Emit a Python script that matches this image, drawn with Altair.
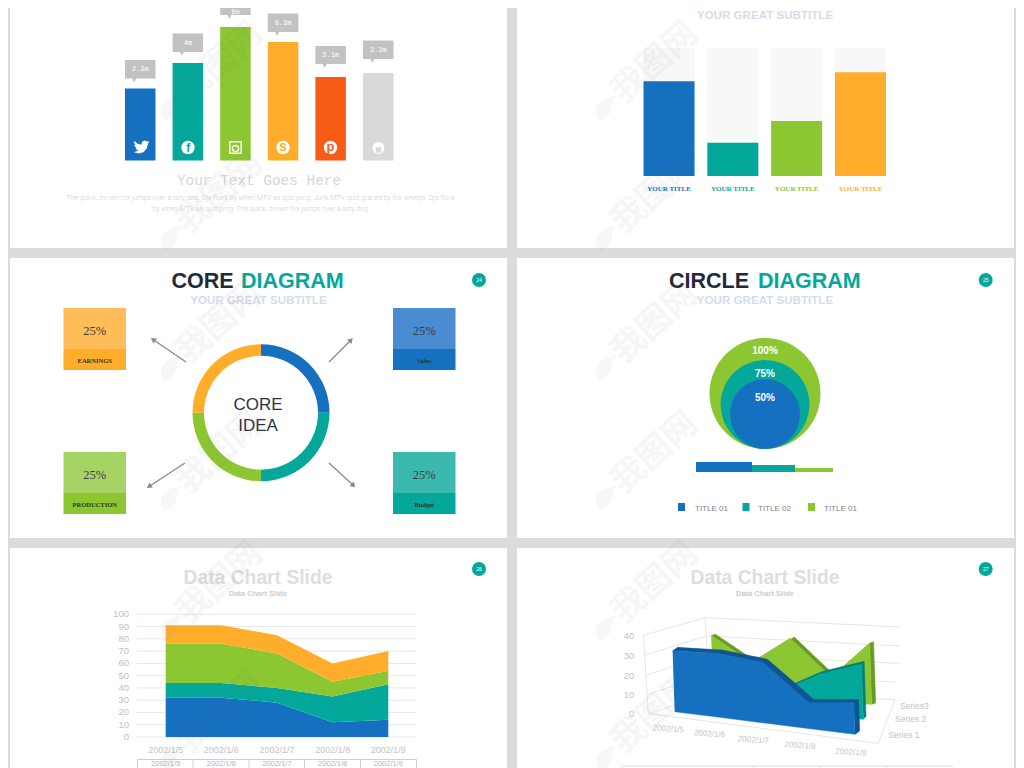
import altair as alt
import pandas as pd

BLUE, TEAL, GREEN, ORANGE, RED = "#1570c0", "#03a89b", "#8cc630", "#ffad2b", "#f75c17"
GREY_BG = "#dcdcdc"
SANS, SERIF, MONO = "Liberation Sans", "Liberation Serif", "Liberation Mono"
CJK = "Noto Sans CJK SC"

# ---- data -----------------------------------------------------------------
social_names = ["twitter", "facebook", "instagram", "skype", "pinterest", "other"]
social_bars = [72, 97.5, 133.5, 118.5, 83.5, 87.5]
social_labels = ["2.3m", "4m", "8m", "8.3m", "3.1m", "3.3m"]
social_tag_low = [82, 108.5, 145.5, 128.5, 96.5, 101.5]
social_tag_high = [100.5, 127, 160.5, 147, 114.5, 120]
social_label_at = [91.25, 117.75, 148.5, 137.75, 105.5, 110.75]
social_colors = [BLUE, TEAL, GREEN, ORANGE, RED, "#d9d9d9"]

title_names = ["A", "B", "C", "D"]
title_values = [74, 26, 43, 81]
title_colors = [BLUE, TEAL, GREEN, ORANGE]

core_values = [25, 25, 25, 25]
core_colors = [BLUE, TEAL, GREEN, ORANGE]

circle_values = [100, 75, 50]
circle_colors = [GREEN, TEAL, BLUE]
strip_start = [0, 56, 99]
strip_end = [56, 99, 137]
strip_height = [10, 7, 4]

dates = ["2002/1/5", "2002/1/6", "2002/1/7", "2002/1/8", "2002/1/9"]
area_series = {
    "Series 1": [32, 32, 28, 12, 14],
    "Series 2": [12, 12, 12, 21, 29],
    "Series 3": [32, 32, 28, 12, 11],
    "Series 4": [15, 15, 15, 15, 16],
}
area_colors = [BLUE, TEAL, GREEN, ORANGE]
area_ticks = list(range(0, 101, 10))

ribbon_blue = [31, 32.5, 30.7, 13.2, 16]
ribbon_teal = [12, 12, 10, 21, 28]
ribbon_green = [32, 19, 32, 13, 31]
axis3d_ticks = [0, 10, 20, 30, 40]


# ---- helpers --------------------------------------------------------------
ONE = pd.DataFrame({"o": [1]})


def box(x1, x2, y1, y2, color, opacity=1):
    return alt.Chart(ONE).mark_rect(color=color, opacity=opacity).encode(
        x=alt.value(x1 - 8), x2=alt.value(x2 - 8), y=alt.value(y1 - 8), y2=alt.value(y2 - 8))


def seg(x1, y1, x2, y2, color, width=1):
    return alt.Chart(ONE).mark_rule(color=color, strokeWidth=width).encode(
        x=alt.value(x1 - 8), x2=alt.value(x2 - 8), y=alt.value(y1 - 8), y2=alt.value(y2 - 8))


def label(t, x, y, size, color, font=SANS, bold=False, align="center", angle=0, opacity=1, weight=None):
    return alt.Chart(pd.DataFrame({"t": [t]})).mark_text(
        font=font, fontSize=size, color=color,
        fontWeight=weight if weight else ("bold" if bold else "normal"),
        align=align, baseline="middle", angle=angle, opacity=opacity).encode(
        x=alt.value(x - 8), y=alt.value(y - 8), text="t:N")


def sym(x, y, shape, size, color, angle=0, filled=True, width=1, opacity=1):
    return alt.Chart(ONE).mark_point(
        shape=shape, size=size, filled=filled, color=color, angle=angle,
        stroke=color if not filled else None, strokeWidth=width, opacity=opacity).encode(
        x=alt.value(x - 8), y=alt.value(y - 8))


layers = [box(10, 507, 0, 248, "white"), box(517, 1014, 0, 248, "white"),
          box(10, 507, 258, 538, "white"), box(517, 1014, 258, 538, "white"),
          box(10, 507, 548, 776, "white"), box(517, 1014, 548, 776, "white")]

# ---- social bars ----------------------------------------------------------
soc = pd.DataFrame({"n": social_names, "v": social_bars, "l": social_labels,
                    "lo": social_tag_low, "hi": social_tag_high, "c": social_colors,
                    "m": social_label_at})
sx = alt.Scale(type="band", domain=social_names, range=[117, 385.5], paddingInner=0.36, paddingOuter=0)
sy = alt.Scale(domain=[0, 160], range=[152.5, -7.5])
X = alt.X("n:N", scale=sx, axis=None, sort=social_names)
layers += [
    alt.Chart(soc).mark_bar(size=30.5).encode(
        x=X, y=alt.Y("v:Q", scale=sy, axis=None), color=alt.Color("c:N", scale=None)),
    alt.Chart(soc).mark_bar(color="#c2c2c2", size=30.5).encode(
        x=X, y=alt.Y("lo:Q", scale=sy, axis=None), y2="hi:Q"),
    alt.Chart(soc).mark_point(shape="triangle-down", size=38, filled=True, color="#c2c2c2",
                              opacity=1, xOffset=-6, yOffset=1).encode(
        x=X, y=alt.Y("lo:Q", scale=sy, axis=None)),
    alt.Chart(soc).mark_text(font=MONO, fontSize=7, color="white", baseline="middle").encode(
        x=X, y=alt.Y("m:Q", scale=sy, axis=None), text="l:N"),
]

bird = [(24, 4.6), (21.2, 5.3), (23.3, 2.6), (20.2, 3.8), (16.6, 2.2), (13.2, 4), (12, 7), (12.1, 8.7),
        (6.5, 7), (1.6, 3.2), (1, 5.6), (3.2, 9.7), (0.9, 9.1), (1, 9.8), (4.9, 14), (2.7, 14.1),
        (7.3, 17.5), (1.2, 19.6), (0, 19.5), (7.5, 21.8), (15, 19.8), (20, 14), (21.5, 7.8), (21.5, 7.2)]
bird_path = "M" + " L".join(f"{(px - 12) / 12:.3f},{(py - 12) / 12:.3f}" for px, py in bird) + " Z"
layers += [
    sym(141.5, 147, bird_path, 260, "white"),
    sym(188, 147.5, "circle", 180, "white"),
    label("f", 188.3, 148, 12, TEAL, bold=True),
    sym(235.5, 147.5, "square", 130, "white", filled=False, width=1.5),
    sym(235.5, 148.5, "circle", 38, "white", filled=False, width=1.5),
    sym(283, 147.5, "circle", 180, "white"),
    label("S", 283, 148, 11, ORANGE, bold=True),
    sym(330.5, 147.5, "circle", 180, "white"),
    label("p", 330.5, 147, 13, RED, bold=True),
    sym(378.5, 148, "circle", 140, "white"),
    sym(378.5, 150, "square", 30, "#d9d9d9"),
    label("Your Text Goes Here", 259, 180.5, 14.4, "#d6d6d6", font=MONO),
    label("The quick, brown fox jumps over a lazy dog. Djs flock by when MTV ax quiz prog. Junk MTV quiz graced by fox whelps. Djs flock",
          261, 198, 7, "#cfcfcf", font="Roboto", weight=300),
    label("by when MTV ax quiz prog. The quick, brown fox jumps over a lazy dog.", 261, 208.5, 7, "#cfcfcf",
          font="Roboto", weight=300),
]

# ---- title bars -----------------------------------------------------------
tt = pd.DataFrame({"n": title_names, "v": title_values, "c": title_colors, "full": [100] * 4})
tx = alt.Scale(type="band", domain=title_names, range=[635.5, 878], paddingInner=0.2, paddingOuter=0)
ty = alt.Scale(domain=[0, 100], range=[168, 40])
TX = alt.X("n:N", scale=tx, axis=None, sort=title_names)
layers += [
    label("YOUR GREAT SUBTITLE", 765, 16, 11.6, "#d3dde9", bold=True),
    alt.Chart(tt).mark_bar(color="#f8f8f8", size=51).encode(x=TX, y=alt.Y("full:Q", scale=ty, axis=None)),
    alt.Chart(tt).mark_bar(size=51).encode(x=TX, y=alt.Y("v:Q", scale=ty, axis=None),
                                           color=alt.Color("c:N", scale=None)),
    alt.Chart(tt.assign(t="YOUR TITLE")).mark_text(font=SERIF, fontWeight="bold", fontSize=7, baseline="middle").encode(
        x=TX, y=alt.value(189 - 8), text="t:N", color=alt.Color("c:N", scale=None)),
]

# ---- core diagram ---------------------------------------------------------
core = pd.DataFrame({"v": core_values, "c": core_colors, "i": range(4)})
layers += [
    label("CORE", 171.5, 281.5, 21.5, "#1f2a3c", bold=True, align="left"),
    label("DIAGRAM", 241, 281.5, 21.5, TEAL, bold=True, align="left"),
    label("YOUR GREAT SUBTITLE", 258.5, 300.5, 11.6, "#d3dde9", bold=True),
    alt.Chart(core).mark_arc(radius=68.5, radius2=57).encode(
        theta=alt.Theta("v:Q", stack=True, scale=alt.Scale(domain=[0, 100], range=[0, 6.2832])),
        order=alt.Order("i:Q"), color=alt.Color("c:N", scale=None),
        x=alt.value(261 - 8), y=alt.value(412.7 - 8)),
    label("CORE", 258, 404.5, 17, "#2b3445"),
    label("IDEA", 258, 425.5, 17, "#2b3445"),
]
for (x1, x2, y1, ym, y2, light, dark, name) in [
    (63.5, 126, 308, 349, 370, "#ffbd5a", ORANGE, "EARNINGS"),
    (393, 455.5, 308, 349, 370, "#4a8ccf", BLUE, "Sales"),
    (63.5, 126, 452, 493, 514, "#a5d465", GREEN, "PRODUCTION"),
    (393, 455.5, 452, 493, 514, "#3cb9ae", TEAL, "Budget"),
]:
    layers += [box(x1, x2, y1, ym, light), box(x1, x2, ym, y2, dark),
               label("25%", (x1 + x2) / 2, (y1 + ym) / 2 + 2, 12.5, "#3a3a3a", font=SERIF),
               label(name, (x1 + x2) / 2, (ym + y2) / 2 + 1, 6.5, "#333333", font=SERIF, bold=True)]
for (x1, y1, x2, y2, ang) in [(186, 362, 153, 339.5, 304), (329, 362, 351, 340, 45),
                              (185, 463, 149, 486.5, 237), (329, 463, 353.5, 485.5, 133)]:
    layers += [seg(x1, y1, x2, y2, "#8a8a8a", 1.3), sym(x2, y2, "triangle-up", 36, "#8a8a8a", angle=ang)]
layers += [sym(479, 280, "circle", 196, TEAL), label("24", 479, 280, 5, "white")]

# ---- circle diagram -------------------------------------------------------
circ = pd.DataFrame({"v": circle_values, "c": circle_colors, "t": ["100%", "75%", "50%"]})
layers += [
    label("CIRCLE", 669, 281.5, 21.5, "#1f2a3c", bold=True, align="left"),
    label("DIAGRAM", 758, 281.5, 21.5, TEAL, bold=True, align="left"),
    label("YOUR GREAT SUBTITLE", 765, 300.5, 11.6, "#d3dde9", bold=True),
    alt.Chart(circ).mark_circle(opacity=1).encode(
        x=alt.value(765 - 8),
        y=alt.Y("v:Q", axis=None, scale=alt.Scale(domain=[50, 75, 100], range=[406, 396.5, 385.5])),
        size=alt.Size("v:Q", legend=None, scale=alt.Scale(domain=[50, 75, 100], range=[4900, 7921, 12321])),
        color=alt.Color("c:N", scale=None),
        order=alt.Order("v:Q", sort="descending")),
    alt.Chart(circ).mark_text(font=SANS, fontWeight="bold", fontSize=10, color="white", baseline="middle").encode(
        x=alt.value(765 - 8),
        y=alt.Y("v:Q", axis=None, scale=alt.Scale(domain=[50, 75, 100], range=[389.5, 365.5, 342.5])),
        text="t:N"),
]
strip = pd.DataFrame({"a": strip_start, "b": strip_end, "h": strip_height, "c": [BLUE, TEAL, GREEN], "z": [0] * 3})
layers.append(alt.Chart(strip).mark_rect().encode(
    x=alt.X("a:Q", axis=None, scale=alt.Scale(domain=[0, 137], range=[688, 825])), x2="b:Q",
    y=alt.Y("h:Q", axis=None, scale=alt.Scale(domain=[0, 10], range=[464, 454])), y2="z:Q",
    color=alt.Color("c:N", scale=None)))
for (sxp, tx_, name, col) in [(681.5, 695, "TITLE 01", BLUE), (746, 758, "TITLE 02", TEAL), (811.5, 824, "TITLE 01", GREEN)]:
    layers += [box(sxp - 3.5, sxp + 3.5, 503, 511, col),
               label(name, tx_, 508.5, 8, "#7f7f7f", align="left")]
layers += [sym(985.7, 280, "circle", 196, TEAL), label("25", 985.7, 280, 5, "white")]

# ---- stacked area ---------------------------------------------------------
rows = []
for i, d in enumerate(dates):
    base = 0
    for s, vals in area_series.items():
        rows.append({"d": d, "s": s, "y0": base, "y1": base + vals[i]})
        base += vals[i]
area = pd.DataFrame(rows)
ay = alt.Scale(domain=[0, 100], range=[729, 606.3])
ax = alt.Scale(type="point", domain=dates, range=[157.7, 380.3], padding=0)
ticks = pd.DataFrame({"v": area_ticks})
layers += [
    label("Data Chart Slide", 258, 578, 19.3, "#dedede", bold=True),
    label("Data Chart Slide", 258, 593.5, 7.5, "#cccccc", bold=True),
    alt.Chart(ticks).mark_rule(color="#e8e8e8").encode(
        y=alt.Y("v:Q", scale=ay, axis=None), x=alt.value(137 - 8), x2=alt.value(416 - 8)),
    alt.Chart(ticks).mark_text(font=SANS, fontSize=9.5, color="#bfbfbf", align="right", baseline="middle").encode(
        y=alt.Y("v:Q", scale=ay, axis=None), x=alt.value(129 - 8), text="v:Q"),
    alt.Chart(area).mark_area(opacity=1).encode(
        x=alt.X("d:O", scale=ax, axis=None),
        y=alt.Y("y0:Q", scale=ay, axis=None, stack=None), y2="y1:Q",
        color=alt.Color("s:N", legend=None,
                        scale=alt.Scale(domain=list(area_series), range=area_colors))),
    alt.Chart(pd.DataFrame({"d": dates})).mark_text(font=SANS, fontSize=9, color="#c4c4c4", baseline="middle").encode(
        x=alt.X("d:O", scale=ax, axis=None), y=alt.value(750 - 8), text="d:N"),
    alt.Chart(pd.DataFrame({"d": dates})).mark_text(font=SANS, fontSize=7.5, color="#b5b5b5", baseline="middle").encode(
        x=alt.X("d:O", scale=ax, axis=None), y=alt.value(764 - 8), text="d:N"),
    seg(137.5, 759.5, 416.5, 759.5, "#cfcfcf"),
]
for xb in [137.5, 193, 249, 304.5, 360.5, 416.5]:
    layers.append(seg(xb, 759.5, xb, 768, "#cfcfcf"))
layers += [sym(479, 569, "circle", 196, TEAL), label("26", 479, 569, 5, "white")]

# ---- 3-D ribbons ----------------------------------------------------------
def project(i, k, v):
    c, g = 58 - 8.25 * i, -20 - 6.25 * i
    return 224 + 135.25 * i + c * k - 0.2 * v, 497 + 17 * i + g * k - 5.9 * v


def ribbon(values, k, off, front, dark):
    n = len(values)
    top = [project(i, k, values[i]) for i in range(n)]
    bot = [project(i, k, 0) for i in range(n)]
    band = top + [(a + off[0], b + off[1]) for a, b in reversed(top)]
    side = [top[-1], (top[-1][0] + off[0], top[-1][1] + off[1]),
            (bot[-1][0] + off[0], bot[-1][1] + off[1]), bot[-1]]
    face = top + list(reversed(bot))
    return [(band, dark), (side, dark), (face, front)]


zx = alt.Scale(domain=[0, 1080], range=[592, 952])
zy = alt.Scale(domain=[0, 666], range=[538, 760])


def zl(x1, y1, x2, y2, color="#e6e6e6"):
    return seg(600 + x1 / 3, 546 + y1 / 3, 600 + x2 / 3, 546 + y2 / 3, color)


layers += [
    label("Data Chart Slide", 765, 578, 19.3, "#dedede", bold=True),
    label("Data Chart Slide", 765, 593.5, 7.5, "#cccccc", bold=True),
    zl(130, 268, 315, 215), zl(133, 328, 320, 270), zl(137, 388, 325, 325), zl(140, 446, 328, 385),
    zl(145, 503, 330, 445), zl(315, 215, 905, 243), zl(320, 270, 900, 300), zl(325, 325, 900, 352),
    zl(328, 385, 890, 408), zl(330, 445, 885, 460), zl(130, 268, 145, 503), zl(315, 215, 330, 445),
    zl(145, 503, 835, 592), zl(835, 592, 885, 460),
]
for values, k, off, front, dark in [(ribbon_green, 2, (12, -4), GREEN, "#6a9a22"),
                                    (ribbon_teal, 1, (8, -9), TEAL, "#057f78"),
                                    (ribbon_blue, 0, (14, -10), BLUE, "#0e5596")]:
    for poly, col in ribbon(values, k, off, front, dark):
        d = pd.DataFrame({"sx": [p[0] for p in poly], "sy": [p[1] for p in poly], "o": range(len(poly))})
        layers.append(alt.Chart(d).mark_line(fill=col, stroke=col, strokeWidth=0.5).encode(
            x=alt.X("sx:Q", scale=zx, axis=None), y=alt.Y("sy:Q", scale=zy, axis=None), order="o:Q"))

for t, yy in zip(axis3d_ticks, [503, 448, 390, 330, 270]):
    layers.append(label(str(t), 600 + 103 / 3, 546 + yy / 3, 9.5, "#c4c4c4", align="right"))
for d, (lx, ly) in zip(dates, [(205, 550), (328, 565), (460, 583), (600, 600), (752, 620)]):
    layers.append(label(d, 600 + lx / 3, 546 + ly / 3, 8, "#c4c4c4", angle=4))
for s, (lx, ly) in zip(["Series3", "Series 2", "Series 1"], [(943, 479), (932, 519), (912, 566)]):
    layers.append(label(s, 600 + lx / 3, 546 + ly / 3, 8.5, "#c4c4c4"))
layers.append(seg(622, 766, 952, 766, "#dedede"))
for xb in [622, 688, 754, 820, 886, 952]:
    layers.append(seg(xb, 766, xb, 768, "#dedede"))
layers += [sym(985.7, 569, "circle", 196, TEAL), label("27", 985.7, 569, 5, "white")]

# ---- watermark ------------------------------------------------------------
flame = "M0,1 C-0.9,0.4 -0.6,-0.4 0.5,-1 C0.1,-0.4 0.9,0.2 0,1 Z"
for fx in [170, 605]:
    for fy in [107, 237, 367, 497, 627, 757]:
        layers += [
            sym(fx, fy, flame, 900, "#777777", angle=20, opacity=0.06),
            label("我图网", fx + 50, fy - 44, 34, "#777777", font=CJK, bold=True, angle=318, opacity=0.06),
        ]

chart = alt.layer(*layers).resolve_scale(
    x="independent", y="independent", color="independent", size="independent", theta="independent"
).properties(
    width=1008, height=760, padding=0, background=GREY_BG, autosize=alt.AutoSizeParams(type="none")
).configure_view(stroke=None)

chart.save("out.html", embed_options={"renderer": "svg", "actions": False})
